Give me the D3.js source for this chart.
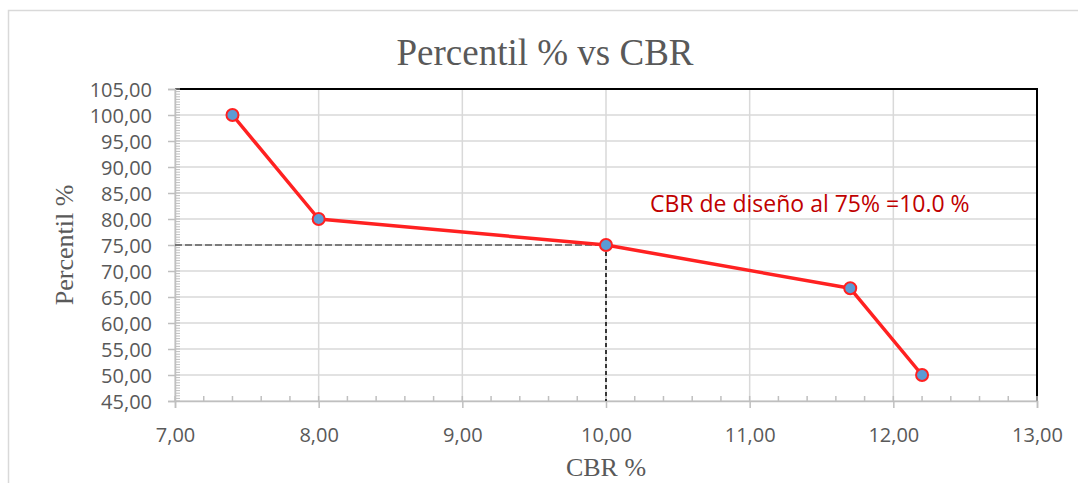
<!DOCTYPE html>
<html>
<head>
<meta charset="utf-8">
<script src="https://cdn.jsdelivr.net/npm/d3@7"></script>
<style>
    body { margin: 0; background: #fff; }
</style>
</head>
<body>
<svg id="chart"></svg>
<script>
// data
let cbr = [7.4, 8.0, 10.0, 11.7, 12.2];
let percentil = [100, 80, 75, 66.67, 50];
let xTicks = [7, 8, 9, 10, 11, 12, 13];
let yTicks = [45, 50, 55, 60, 65, 70, 75, 80, 85, 90, 95, 100, 105];
let design = { cbr: 10.0, pct: 75 };

let W = 1078, H = 483;
let svg = d3.select('#chart').attr('width', W).attr('height', H);

let scX = d3.scaleLinear().domain([7, 13]).range([175, 1037]);
let scY = d3.scaleLinear().domain([45, 105]).range([401, 89]);

let fmt = v => d3.format('.2f')(v).replace('.', ',');

// outer chart border
svg.append('rect')
    .attr('x', 8.5).attr('y', 10.5).attr('width', W).attr('height', H)
    .attr('fill', 'none').attr('stroke', '#d9d9d9').attr('stroke-width', 1.5);

// gridlines
svg.append('g').selectAll('line')
    .data(yTicks).enter().append('line')
    .attr('x1', scX(7)).attr('x2', scX(13))
    .attr('y1', d => scY(d)).attr('y2', d => scY(d))
    .attr('stroke', '#d9d9d9').attr('stroke-width', 1.5);
svg.append('g').selectAll('line')
    .data(xTicks).enter().append('line')
    .attr('x1', d => scX(d)).attr('x2', d => scX(d))
    .attr('y1', scY(45)).attr('y2', scY(105))
    .attr('stroke', '#d9d9d9').attr('stroke-width', 1.5);

// top and right border of the plot
svg.append('path')
    .attr('d', `M${scX(7)},${scY(105)}H${scX(13)}V${scY(45)}`)
    .attr('fill', 'none').attr('stroke', '#000').attr('stroke-width', 2);

// minor ticks (inside)
let yMinor = d3.range(45, 105.01, 0.5);
svg.append('g').selectAll('line')
    .data(yMinor).enter().append('line')
    .attr('x1', scX(7)).attr('x2', scX(7) + 5)
    .attr('y1', d => scY(d)).attr('y2', d => scY(d))
    .attr('stroke', '#bfbfbf').attr('stroke-width', 1);
let xMinor = d3.range(7, 13.01, 0.2);
svg.append('g').selectAll('line')
    .data(xMinor).enter().append('line')
    .attr('x1', d => scX(d)).attr('x2', d => scX(d))
    .attr('y1', scY(45)).attr('y2', scY(45) - 5)
    .attr('stroke', '#bfbfbf').attr('stroke-width', 1.5);

// axes
let axX = d3.axisBottom(scX).tickValues(xTicks).tickFormat(fmt).tickSize(7).tickPadding(20);
let axY = d3.axisLeft(scY).tickValues(yTicks).tickFormat(fmt).tickSize(7).tickPadding(16);

let gx = svg.append('g').attr('transform', `translate(0,${scY(45)})`).call(axX);
let gy = svg.append('g').attr('transform', `translate(${scX(7)},0)`).call(axY);

[gx, gy].forEach(g => {
    g.select('.domain').attr('stroke', '#bfbfbf').attr('stroke-width', 1.5);
    g.selectAll('.tick line').attr('stroke', '#bfbfbf').attr('stroke-width', 1.5);
    g.selectAll('.tick text')
        .attr('fill', '#595959')
        .style('font-family', '"Open Sans", sans-serif')
        .style('font-size', '20px');
});
gy.selectAll('.tick text').attr('dy', '0.35em');

// dashed guide lines to the design value
svg.append('line')
    .attr('x1', scX(7)).attr('x2', scX(design.cbr))
    .attr('y1', scY(design.pct)).attr('y2', scY(design.pct))
    .attr('stroke', '#595959').attr('stroke-width', 1.5)
    .attr('stroke-dasharray', '7,3');
svg.append('line')
    .attr('x1', scX(design.cbr)).attr('x2', scX(design.cbr))
    .attr('y1', scY(design.pct)).attr('y2', scY(45))
    .attr('stroke', '#000').attr('stroke-width', 1.5)
    .attr('stroke-dasharray', '4,3');

// series
let pts = cbr.map((c, i) => ({ x: c, y: percentil[i] }));
let line = d3.line().x(d => scX(d.x)).y(d => scY(d.y));

svg.append('path')
    .datum(pts)
    .attr('d', line)
    .attr('fill', 'none').attr('stroke', '#ff2121').attr('stroke-width', 3.5)
    .attr('stroke-linejoin', 'round');

svg.selectAll('circle')
    .data(pts).enter().append('circle')
    .attr('cx', d => scX(d.x)).attr('cy', d => scY(d.y))
    .attr('r', 6).attr('fill', '#5b9bd5')
    .attr('stroke', '#ff2121').attr('stroke-width', 2);

// texts
svg.append('text')
    .attr('x', 545).attr('y', 65)
    .attr('text-anchor', 'middle')
    .attr('fill', '#595959')
    .style('font-family', '"Liberation Serif", serif')
    .style('font-size', '37px')
    .text('Percentil % vs CBR');

svg.append('text')
    .attr('transform', `translate(73,${(scY(45) + scY(105)) / 2}) rotate(-90)`)
    .attr('text-anchor', 'middle')
    .attr('fill', '#595959')
    .style('font-family', '"Liberation Serif", serif')
    .style('font-size', '26px')
    .text('Percentil %');

svg.append('text')
    .attr('x', (scX(7) + scX(13)) / 2).attr('y', 476)
    .attr('text-anchor', 'middle')
    .attr('fill', '#595959')
    .style('font-family', '"Liberation Serif", serif')
    .style('font-size', '26px')
    .text('CBR %');

svg.append('text')
    .attr('x', 650).attr('y', 212)
    .attr('fill', '#c00000')
    .style('font-family', '"Open Sans", sans-serif')
    .style('font-size', '23px')
    .text('CBR de diseño al 75% =10.0 %');
</script>
</body>
</html>
